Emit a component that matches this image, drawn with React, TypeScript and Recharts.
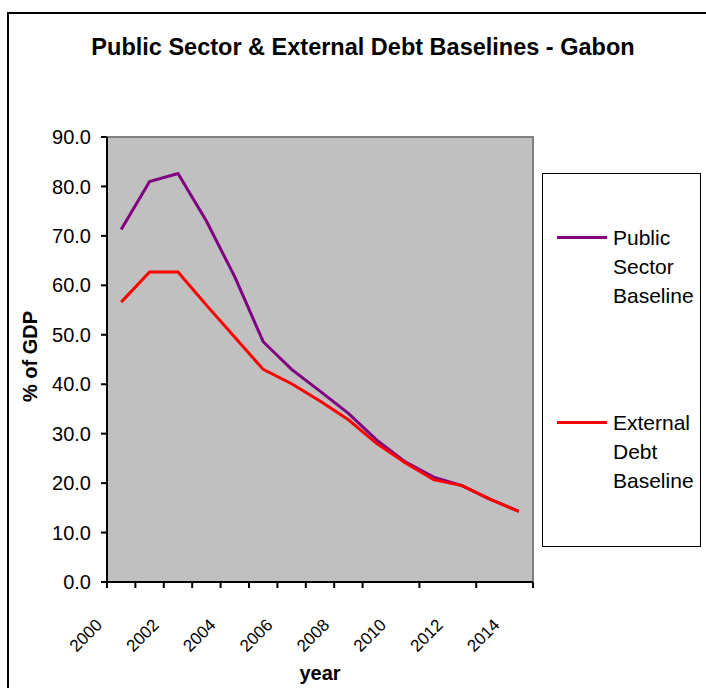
import { LineChart, Line, XAxis, YAxis, ReferenceArea } from 'recharts';

const years = [
  '2000', '2001', '2002', '2003', '2004', '2005', '2006', '2007',
  '2008', '2009', '2010', '2011', '2012', '2013', '2014',
];
const publicSector = [71.3, 81.0, 82.6, 73.0, 61.7, 48.6, 43.0, 38.6, 34.1, 28.7, 24.3, 21.2, 19.5, 16.7, 14.3];
const externalDebt = [56.6, 62.7, 62.7, 56.0, 49.5, 43.0, 40.1, 36.6, 32.8, 28.0, 24.1, 20.7, 19.5, 16.7, 14.3];
const yTicks = [0, 10, 20, 30, 40, 50, 60, 70, 80, 90];

const seriesInfo = [
  { key: 'publicSector', name: 'Public Sector Baseline', color: '#800080' },
  { key: 'externalDebt', name: 'External Debt Baseline', color: '#FF0000' },
];

const data = years.map((year, i) => ({
  idx: i,
  year,
  publicSector: publicSector[i],
  externalDebt: externalDebt[i],
}));

// category boundaries, used only for the tick marks (Excel puts them between categories)
const edges = years.map((_, i) => i - 0.5).concat(years.length - 0.5);

const FONT = 'Arial, "Liberation Sans", sans-serif';

function YearTick({ x, y, payload }: any) {
  const tx = x - 18;
  const ty = y + 43;
  return (
    <text
      x={tx}
      y={ty}
      transform={`rotate(-45, ${tx}, ${ty})`}
      textAnchor="end"
      fontSize={17}
      fontFamily={FONT}
      fill="#000"
    >
      {payload.value}
    </text>
  );
}

const EmptyTick = () => <g />;

export default function App() {
  return (
    <div
      style={{
        position: 'absolute',
        left: 0,
        top: 0,
        width: 706,
        height: 688,
        overflow: 'hidden',
        background: '#fff',
        fontFamily: FONT,
      }}
    >
      {/* outer frame, right/bottom edges run off the picture */}
      <div
        style={{
          position: 'absolute',
          left: 7,
          top: 12,
          width: 800,
          height: 800,
          border: '2px solid #000',
        }}
      />
      <div
        style={{
          position: 'absolute',
          left: 0,
          top: 36,
          width: 726,
          textAlign: 'center',
          fontSize: 23.5,
          lineHeight: '23px',
          fontWeight: 700,
          color: '#000',
        }}
      >
        Public Sector &amp; External Debt Baselines - Gabon
      </div>

      <div style={{ position: 'absolute', left: 0, top: 0 }}>
        <LineChart width={706} height={688} data={data} margin={{ top: 137, right: 173, bottom: 0, left: 0 }}>
          <XAxis
            xAxisId="edge"
            dataKey="idx"
            type="number"
            domain={[-0.5, years.length - 0.5]}
            allowDataOverflow
            ticks={edges}
            tick={EmptyTick}
            tickSize={6}
            tickLine={{ stroke: '#000', strokeWidth: 2 }}
            axisLine={{ stroke: '#000', strokeWidth: 2 }}
            height={1}
          />
          <XAxis
            xAxisId="year"
            dataKey="year"
            scale="band"
            interval={1}
            tickLine={false}
            axisLine={false}
            tickSize={0}
            tickMargin={0}
            height={105}
            tick={<YearTick />}
            label={({ viewBox }: any) => (
              <text
                x={viewBox.x + viewBox.width / 2}
                y={viewBox.y + viewBox.height - 8}
                textAnchor="middle"
                fontSize={20}
                fontWeight={700}
                fontFamily={FONT}
                fill="#000"
              >
                year
              </text>
            )}
          />
          <YAxis
            domain={[0, 90]}
            ticks={yTicks}
            width={107}
            tickFormatter={(v: number) => v.toFixed(1)}
            tick={{ fontSize: 20, fill: '#000', fontFamily: FONT }}
            tickSize={6}
            tickMargin={10}
            tickLine={{ stroke: '#000', strokeWidth: 2 }}
            axisLine={{ stroke: '#000', strokeWidth: 2 }}
            label={({ viewBox }: any) => {
              const lx = viewBox.x + 37;
              const ly = viewBox.y + viewBox.height / 2 - 3;
              return (
                <text
                  x={lx}
                  y={ly}
                  transform={`rotate(-90, ${lx}, ${ly})`}
                  textAnchor="middle"
                  fontSize={20}
                  fontWeight={700}
                  fontFamily={FONT}
                  fill="#000"
                >
                  % of GDP
                </text>
              );
            }}
          />
          <ReferenceArea
            xAxisId="edge"
            x1={-0.5}
            x2={years.length - 0.5}
            y1={0}
            y2={90}
            fill="#C0C0C0"
            fillOpacity={1}
            stroke="#808080"
            strokeWidth={2}
          />
          {seriesInfo.map((s) => (
            <Line
              key={s.key}
              xAxisId="year"
              type="linear"
              dataKey={s.key}
              name={s.name}
              stroke={s.color}
              strokeWidth={3}
              dot={false}
              isAnimationActive={false}
            />
          ))}
        </LineChart>
      </div>

      {/* legend box */}
      <div
        style={{
          position: 'absolute',
          left: 542,
          top: 173,
          width: 157,
          height: 372,
          border: '1.5px solid #000',
          background: '#fff',
        }}
      >
        {seriesInfo.map((s, i) => (
          <div
            key={s.key}
            style={{
              position: 'absolute',
              left: 14,
              top: i === 0 ? 49 : 234,
              display: 'flex',
              alignItems: 'flex-start',
            }}
          >
            <div style={{ width: 50, height: 3, background: s.color, marginTop: 13 }} />
            <div style={{ width: 90, marginLeft: 6, fontSize: 21, lineHeight: '29px', color: '#000' }}>
              {s.name}
            </div>
          </div>
        ))}
      </div>
    </div>
  );
}
